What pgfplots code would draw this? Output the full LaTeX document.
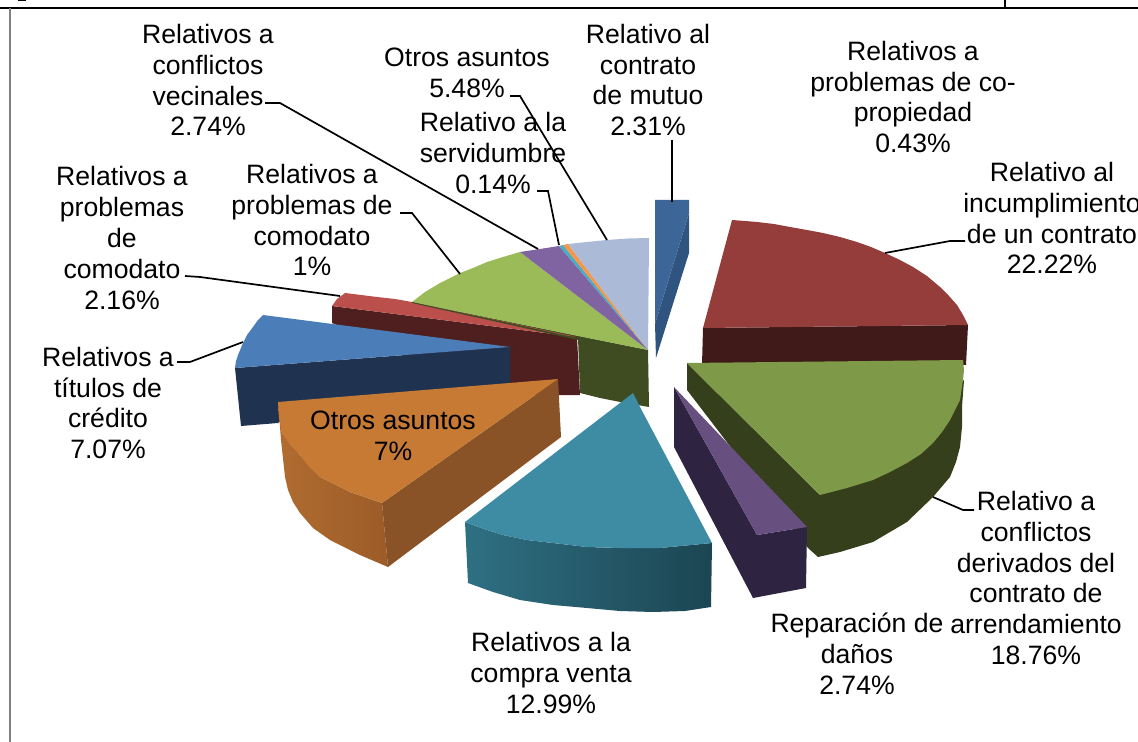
\documentclass[border=0pt]{standalone}
\usepackage{pgfplots}
\pgfplotsset{compat=1.18}
\usepackage{fontspec}
\setmainfont{Liberation Sans}
\newcommand\myPoly[2]{\addplot[fill=#1,draw=none,no marks,forget plot] coordinates {#2};}
\newcommand\myShade[3]{\addplot[left color=#1,right color=#2,draw=none,no marks,forget plot] coordinates {#3};}
\newcommand\myLead[1]{\addplot[black,line width=0.85pt,no marks,forget plot] coordinates {#1};}
\newcommand\myLab[3]{\node[align=center,anchor=center,inner sep=0pt,font=\fontsize{13.3pt}{15.45pt}\selectfont,text=black] at (axis cs:#1,#2) {#3};}
\definecolor{rT}{HTML}{953D3B}\definecolor{rS}{HTML}{401A18}
\definecolor{gT}{HTML}{7E9A48}\definecolor{gS}{HTML}{363F1C}
\definecolor{pT}{HTML}{67507F}\definecolor{pS}{HTML}{2E2340}
\definecolor{tT}{HTML}{3D8CA3}\definecolor{oT}{HTML}{C77A34}\definecolor{oS}{HTML}{8A5327}
\definecolor{bT}{HTML}{4B7DB8}\definecolor{bS}{HTML}{1F3350}
\definecolor{r2T}{HTML}{BB4F4C}\definecolor{r2S}{HTML}{4F1F1F}
\definecolor{g2T}{HTML}{9BBB59}\definecolor{g2S}{HTML}{3F4B21}
\definecolor{mT}{HTML}{3C6698}\definecolor{mS}{HTML}{2F5480}
\definecolor{p2}{HTML}{8064A2}\definecolor{t2}{HTML}{4BACC6}\definecolor{o2}{HTML}{F79646}\definecolor{lb}{HTML}{AABAD7}
\definecolor{oA}{HTML}{B06C30}\definecolor{oB}{HTML}{9C5C28}
\definecolor{tA}{HTML}{2E7083}\definecolor{tB}{HTML}{1C4552}
\begin{document}
\begin{tikzpicture}
\path[use as bounding box] (0,0) rectangle (569pt,371pt);
\begin{axis}[at={(0,0)},anchor=south west,hide axis,scale only axis,width=569pt,height=371pt,
  xmin=0,xmax=1138,ymin=0,ymax=742,y dir=reverse,clip=false]
% frame
\addplot[black,line width=1pt,no marks,forget plot] coordinates {(0,8) (1138,8)};
\addplot[black,line width=1pt,no marks,forget plot] coordinates {(1005,0) (1005,8)};
\addplot[black,line width=1pt,no marks,forget plot] coordinates {(18,0.5) (26,0.5)};
\addplot[gray,line width=1pt,no marks,forget plot] coordinates {(10,8) (10,742)};
% back slices
\myPoly{g2S}{(412,302) (578,338) (580,393) (600,398) (620,402) (649,407) (648,350)}
\myPoly{r2S}{(332,306) (577,337) (580,395) (500,395) (332,323)}
\myPoly{r2T}{(345,293) (361,295) (377,297) (395,299) (412,302) (577,337) (332,306) (337,299)}
\myPoly{g2T}{(412,302) (425,292) (440,283) (460,273) (473,268) (487,262) (503,257) (520,252) (648,350) (578,336)}
\myPoly{p2}{(520,252) (540,249) (559,246) (648,350)}
\myPoly{g2S}{(412,302) (578,338) (578,340) (412,303)}
\myPoly{t2}{(559,246) (563,245) (648,350)}
\myPoly{o2}{(563,245) (568,244) (648,350)}
\myPoly{lb}{(568,244) (587,242) (607,240) (628,238.5) (649,238) (648,350)}
% titulos
\myPoly{bS}{(235,368) (241,426) (278,423) (300,405) (510,383) (510,347)}
\myPoly{bT}{(263,315) (510,347) (235,368) (236,361) (238,355) (243,343) (247,335) (253,327) (258,320)}
% orange
\myShade{oA}{oB}{(278,402) (281,440) (285,477) (288,490) (293,502) (300,513) (313,528) (330,540) (360,555) (388,567) (382,503) (350,492) (320,477) (300,455) (282,433)}
\myPoly{oS}{(558,379) (561,437) (388,567) (382,503)}
\myPoly{oT}{(278,402) (558,379) (382,503) (350,492) (320,477) (309,467) (300,455) (290,445) (282,433) (279,418)}
% teal
\myShade{tA}{tB}{(465,522) (468,583) (493,592) (520,600) (553,605) (587,608) (620,611) (653,612) (685,611) (711,607) (712,543) (660,548) (620,548) (587,547) (553,543) (527,540) (503,535) (487,530)}
\myPoly{tT}{(633,393) (640,407) (712,543) (660,548) (620,548) (587,547) (553,543) (527,540) (503,535) (487,530) (465,522)}
% mutuo
\myPoly{mS}{(689,213) (689,253) (656,358) (655,324)}
\myPoly{mT}{(655,200) (689,200) (689,213) (655,324)}
% red
\myPoly{rS}{(703,328) (968,325) (966,365) (702,365)}
\myPoly{rT}{(732,220) (745,221) (757,222) (774,224) (790,227) (807,230) (823,233) (840,237) (857,242) (871,247) (885,253) (900,260) (913,267) (927,276) (940,287) (949,296) (957,305) (963,315) (968,325) (703,328)}
% big green
\myPoly{gS}{(687,363) (687,390) (808,548) (818,557) (840,552) (873,542) (907,522) (933,497) (950,477) (956,462) (960,447) (962,427) (962,407) (964,380) (820,495)}
\myPoly{gT}{(687,363) (963,360) (964,370) (963,380) (960,400) (950,420) (942,432) (933,443) (921,454) (907,463) (890,472) (873,480) (847,488) (820,495)}
% purple
\myPoly{pS}{(674,387) (674,447) (753,598) (806,588) (807,527) (757,535)}
\myPoly{pT}{(674,387) (807,527) (757,535)}
% leaders
\myLead{(672,140) (672,202)}
\myLead{(885,253) (950,241) (965,241)}
\myLead{(933,497) (963,510) (974,510)}
\myLead{(510,96) (520,96) (607,240)}
\myLead{(537,191) (548,191) (559,245)}
\myLead{(265,103) (280,103) (538,249)}
\myLead{(400,213) (412,213) (460,274)}
\myLead{(185,276) (200,277) (340,296)}
\myLead{(177,362) (190,362) (243,342)}
% labels
\myLab{208}{80}{Relativos a\\conflictos\\vecinales\\2.74\%}
\myLab{467}{73}{Otros asuntos\\5.48\%}
\myLab{493}{153}{Relativo a la\\servidumbre\\0.14\%}
\myLab{648}{80}{Relativo al\\contrato\\de mutuo\\2.31\%}
\myLab{913}{97}{Relativos a\\problemas de co-\\propiedad\\0.43\%}
\myLab{1052}{218}{Relativo al\\incumplimiento\\de un contrato\\22.22\%}
\myLab{1036}{578}{Relativo a\\conflictos\\derivados del\\contrato de\\arrendamiento\\18.76\%}
\myLab{857}{654}{Reparación de\\daños\\2.74\%}
\myLab{551}{673}{Relativos a la\\compra venta\\12.99\%}
\myLab{393}{436}{Otros asuntos\\7\%}
\myLab{108}{403}{Relativos a\\títulos de\\crédito\\7.07\%}
\myLab{122}{238}{Relativos a\\problemas\\de\\comodato\\2.16\%}
\myLab{312}{220}{Relativos a\\problemas de\\comodato\\1\%}
\end{axis}
\end{tikzpicture}
\end{document}
